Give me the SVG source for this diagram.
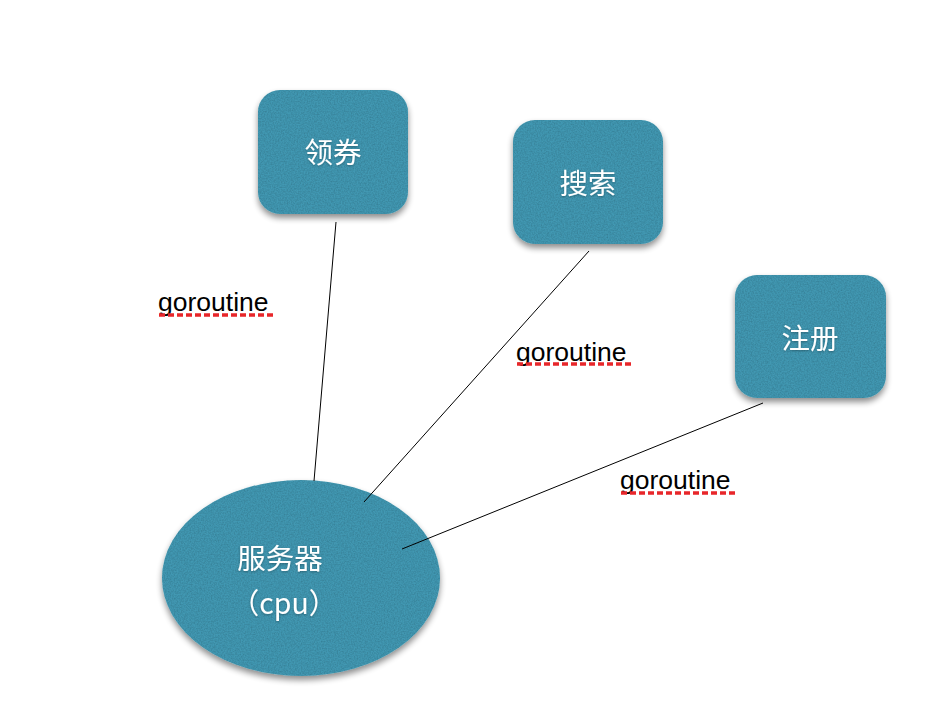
<svg xmlns="http://www.w3.org/2000/svg" width="950" height="726" viewBox="0 0 950 726">
<defs>
<filter id="tex" x="-10%" y="-10%" width="125%" height="130%">
<feTurbulence type="fractalNoise" baseFrequency="0.7" numOctaves="2" seed="3" result="noise"/>
<feColorMatrix in="noise" type="matrix" values="0 0 0 0 0  0 0 0 0 0  0 0 0 0 0  0 0 0 0.5 -0.15" result="dark"/>
<feComposite in="dark" in2="SourceGraphic" operator="in" result="darkIn"/>
<feGaussianBlur in="SourceAlpha" stdDeviation="3" result="blur"/>
<feOffset in="blur" dx="0" dy="4" result="off"/>
<feComponentTransfer in="off" result="shadow"><feFuncA type="linear" slope="0.45"/></feComponentTransfer>
<feMerge><feMergeNode in="shadow"/><feMergeNode in="SourceGraphic"/><feMergeNode in="darkIn"/></feMerge>
</filter>
<filter id="ts" x="-10%" y="-10%" width="120%" height="130%">
<feDropShadow dx="0" dy="1" stdDeviation="1" flood-color="#000" flood-opacity="0.3"/>
</filter>
</defs>
<style>
.node{fill:#4298b2;filter:url(#tex);}
.lbl{font-family:"Noto Sans CJK SC","Liberation Sans",sans-serif;font-size:28.5px;font-weight:400;fill:#ffffff;text-anchor:middle;filter:url(#ts);}
.go{font-family:"Liberation Sans",Arial,sans-serif;font-size:26.5px;fill:#000000;}
.wave{stroke:#e8262a;stroke-width:3.5;stroke-dasharray:6 3;fill:none;}
.edge{stroke:#000000;stroke-width:1;fill:none;}
</style>
<rect width="950" height="726" fill="#ffffff"/>
<g id="node-lingquan">
<rect class="node" x="258" y="90" width="150" height="124" rx="22"/>
<text class="lbl" x="333" y="163">领券</text>
</g>
<g id="node-sousuo">
<rect class="node" x="513" y="120" width="150" height="124" rx="22"/>
<text class="lbl" x="588" y="194">搜索</text>
</g>
<g id="node-zhuce">
<rect class="node" x="735" y="275" width="151" height="123" rx="22"/>
<text class="lbl" x="810" y="349">注册</text>
</g>
<g id="node-server">
<ellipse class="node" cx="301" cy="578" rx="139" ry="98"/>
<text class="lbl" x="280" y="569">服务器</text>
<text class="lbl" x="284" y="614">（cpu）</text>
</g>
<g id="connectors">
<line class="edge" x1="336" y1="222" x2="314" y2="481"/>
<line class="edge" x1="589" y1="251" x2="364" y2="502"/>
<line class="edge" x1="763" y1="403" x2="402" y2="549"/>
</g>
<g id="labels">
<text class="go" x="158" y="311">goroutine</text>
<line class="wave" x1="159" y1="315" x2="273" y2="315"/>
<text class="go" x="516" y="361">goroutine</text>
<line class="wave" x1="517" y1="364" x2="632" y2="364"/>
<text class="go" x="620" y="489">goroutine</text>
<line class="wave" x1="621" y1="493" x2="736" y2="493"/>
</g>
</svg>
